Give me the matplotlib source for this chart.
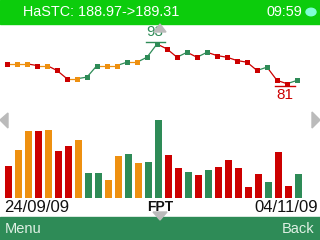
import matplotlib
matplotlib.use('Agg')
import matplotlib.pyplot as plt
from matplotlib.patches import Rectangle, Polygon, Circle
from matplotlib.transforms import offset_copy

plt.rcParams['font.family'] = ['Liberation Sans', 'DejaVu Sans']

# FPT closing prices, 24/09/09 -> 04/11/09
prices = [87, 87, 87, 86.5, 86.5, 85, 82.5, 82.5, 83, 86.5,
          86.5, 86.5, 87.5, 87.5, 89, 93, 91.5, 89, 90.5, 89,
          90.5, 89.5, 89, 88, 87.5, 85, 86, 82, 81, 82]
volumes = [32, 48, 67, 67, 68, 47, 52, 58, 25, 25,
           18, 42, 44, 35, 36, 78, 43, 30, 26, 23,
           28, 31, 38, 30, 11, 24, 16, 46, 12, 24]
header = "HaSTC: 188.97->189.31"
clock = "09:59"
symbol = "FPT"
date_from = "24/09/09"
date_to = "04/11/09"

RED = '#cc0000'
ORANGE = '#ee9010'
GREEN = '#2e8b57'
BRIGHT = '#0ccc0c'

colors = [RED]
for i in range(1, len(prices)):
    if prices[i] > prices[i-1]:
        colors.append(GREEN)
    elif prices[i] < prices[i-1]:
        colors.append(RED)
    else:
        colors.append(ORANGE)

W, H = 320, 240
fig = plt.figure(figsize=(3.2, 2.4), dpi=100)
fig.patch.set_facecolor('white')


def fx(x):
    return x / W


def fy(y):
    return 1 - y / H


def box(y0, y1):
    return [0, fy(y1), 1, (y1 - y0) / H]


# top + bottom bands
fig.patches.append(Rectangle((0, fy(24)), 1, 24 / H, transform=fig.transFigure, color=BRIGHT, zorder=0))
fig.patches.append(Rectangle((0, 0), 1, 23 / H, transform=fig.transFigure, color=GREEN, zorder=0))
fig.text(fx(23), fy(12), header, color='white', fontsize=10.4, va='center', ha='left')
fig.text(fx(302), fy(12), clock, color='white', fontsize=10.4, va='center', ha='right')
fig.patches.append(Circle((fx(311), fy(12)), 5 / W, transform=fig.transFigure, color='#80ffd4'))

# price line
ax = fig.add_axes(box(24, 110))
ax.axis('off')
ax.set_xlim(-0.7, 31.3)
ax.set_ylim(73.05, 99.05)
n = len(prices)
for i in range(1, n):
    ax.plot([i-1, i], [prices[i-1], prices[i]], color=colors[i], lw=0.9, zorder=2)
for i in range(n):
    ax.plot(i, prices[i], 's', color=colors[i], ms=3.6, mew=0, zorder=3)

hi = prices.index(max(prices))
lo = len(prices) - 1 - prices[::-1].index(min(prices))
up = offset_copy(ax.transData, fig=fig, x=0, y=2.5, units='dots')
ax.plot([hi - 1.1, hi + 0.8], [prices[hi]] * 2, color=GREEN, lw=1, transform=up)
ax.annotate(f"{prices[hi]:g}", (hi, prices[hi]), xytext=(-2, 12.5), textcoords='offset pixels',
            ha='center', va='center', color=GREEN, fontsize=11)
dn = offset_copy(ax.transData, fig=fig, x=0, y=-2.6, units='dots')
ax.plot([lo - 1.2, lo + 0.8], [prices[lo]] * 2, color=RED, lw=1, transform=dn)
ax.annotate(f"{prices[lo]:g}", (lo, prices[lo]), xytext=(-2, -11), textcoords='offset pixels',
            ha='center', va='center', color=RED, fontsize=11)

# volume bars
bx = fig.add_axes(box(110, 198))
bx.axis('off')
bx.set_xlim(-0.85, 31.15)
bx.set_ylim(0, 88)
bx.bar(range(n), volumes, width=0.7, color=colors)

# nav arrows
grey = '#bbbbbb'
for pts in ([(0, 120), (8, 113), (8, 128)],
            [(320, 120), (312, 112), (312, 128)],
            [(160, 24), (154, 32), (166, 32)],
            [(160, 220), (153, 212), (167, 212)]):
    fig.patches.append(Polygon([(fx(x), fy(y)) for x, y in pts], closed=True,
                               transform=fig.transFigure, color=grey, zorder=5))

# bottom labels
fig.text(fx(4), fy(207), date_from, color='#111111', fontsize=12, va='center', ha='left')
fig.text(fx(318), fy(207), date_to, color='#111111', fontsize=12, va='center', ha='right')
fig.text(fx(160), fy(207), symbol, color='#111111', fontsize=10, fontweight='bold', va='center', ha='center')
fig.text(fx(5), fy(229), "Menu", color='#dff0e4', fontsize=10.5, va='center', ha='left')
fig.text(fx(314), fy(229), "Back", color='#dff0e4', fontsize=10.5, va='center', ha='right')

fig.savefig('out.png', dpi=100)
